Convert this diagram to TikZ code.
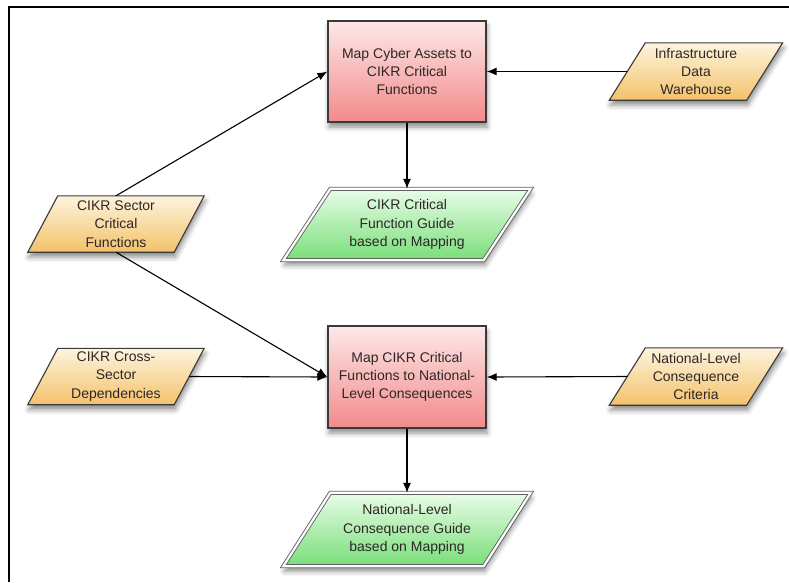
\documentclass[tikz,border=0pt]{standalone}
\usepackage{fontspec}
\setmainfont{Liberation Sans}
\usetikzlibrary{arrows.meta,shadows.blur,calc}
\pgfdeclarelayer{bg}
\pgfsetlayers{bg,main}
\definecolor{textc}{HTML}{2E2626}
\definecolor{boxline}{HTML}{3A3A3A}
\definecolor{redtop}{HTML}{FDE8E8}
\definecolor{redbot}{HTML}{F28A8A}
\definecolor{yeltop}{HTML}{FDF4DE}
\definecolor{yelbot}{HTML}{F3C26A}
\definecolor{grntop}{HTML}{E8FDE8}
\definecolor{grnbot}{HTML}{78DE78}
\newcommand\myparashape[3]{%
  \path[#3] ($(#1.south west)+(-#2,0)$) -- ($(#1.south east)+(-#2,0)$)
    -- ($(#1.north east)+(#2,0)$) -- ($(#1.north west)+(#2,0)$) -- cycle;}
\begin{document}
\begin{tikzpicture}[x=1pt,y=-1pt,
  txt/.style={font=\fontsize{14}{18.3}\selectfont, text=textc, align=center, inner sep=0pt},
  shad/.style={blur shadow={shadow xshift=1pt, shadow yshift=-5pt, shadow blur radius=5pt, shadow opacity=45}},
  procbox/.style={txt, rectangle, draw=boxline, line width=1.3pt, top color=redtop, bottom color=redbot, shad,
    minimum width=158pt, minimum height=101pt},
  databox/.style={txt, rectangle, minimum height=56pt},
  yelpara/.style={draw=boxline, line width=1.1pt, top color=yeltop, bottom color=yelbot, shad},
  grnpara/.style={draw=boxline!80, line width=0.9pt, double=white, double distance=2.2pt, top color=grntop, bottom color=grnbot, shad},
  conn/.style={draw=black, line width=1.1pt, -{Latex[length=10pt,width=8pt]}}]
\useasboundingbox (0,0) rectangle (789,582);
% frame
\draw[line width=2pt, black] (9,582) -- (9,7) -- (789,7);
% nodes
\node[procbox] (box1) at (407,71.5) {Map Cyber Assets to\\CIKR Critical\\Functions};
\node[procbox, minimum height=102pt] (box2) at (407,377) {Map CIKR Critical\\Functions to National-\\Level Consequences};
\node[databox, minimum width=146pt] (sector) at (116,224) {CIKR Sector\\Critical\\Functions};
\node[databox, minimum width=146pt] (cross) at (116,376.5) {CIKR Cross-\\Sector\\Dependencies};
\node[databox, minimum width=137pt, minimum height=57pt] (idw) at (696,71.5) {Infrastructure\\Data\\Warehouse};
\node[databox, minimum width=137pt, minimum height=57pt] (nlc) at (696,376.5) {National-Level\\Consequence\\Criteria};
\node[databox, minimum width=200pt, minimum height=71pt] (g1) at (407,224.5) {CIKR Critical\\Function Guide\\based on Mapping};
\node[databox, minimum width=200pt, minimum height=73pt] (g2) at (407,529.5) {National-Level\\Consequence Guide\\based on Mapping};
\begin{pgfonlayer}{bg}
  \myparashape{sector}{15}{yelpara}
  \myparashape{cross}{15}{yelpara}
  \myparashape{idw}{18}{yelpara}
  \myparashape{nlc}{18}{yelpara}
  \myparashape{g1}{23.5}{grnpara}
  \myparashape{g2}{23.5}{grnpara}
\end{pgfonlayer}
% connectors
\draw[conn] (sector.north) -- (box1.west);
\draw[conn] (sector.south) -- (box2.west);
\draw[conn] (cross.east) -- (box2.west);
\draw[conn] (idw.west) -- (box1.east);
\draw[conn] (nlc.west) -- (box2.east);
\draw[conn] (box1.south) -- (g1.north);
\draw[conn] (box2.south) -- (g2.north);
\end{tikzpicture}
\end{document}
